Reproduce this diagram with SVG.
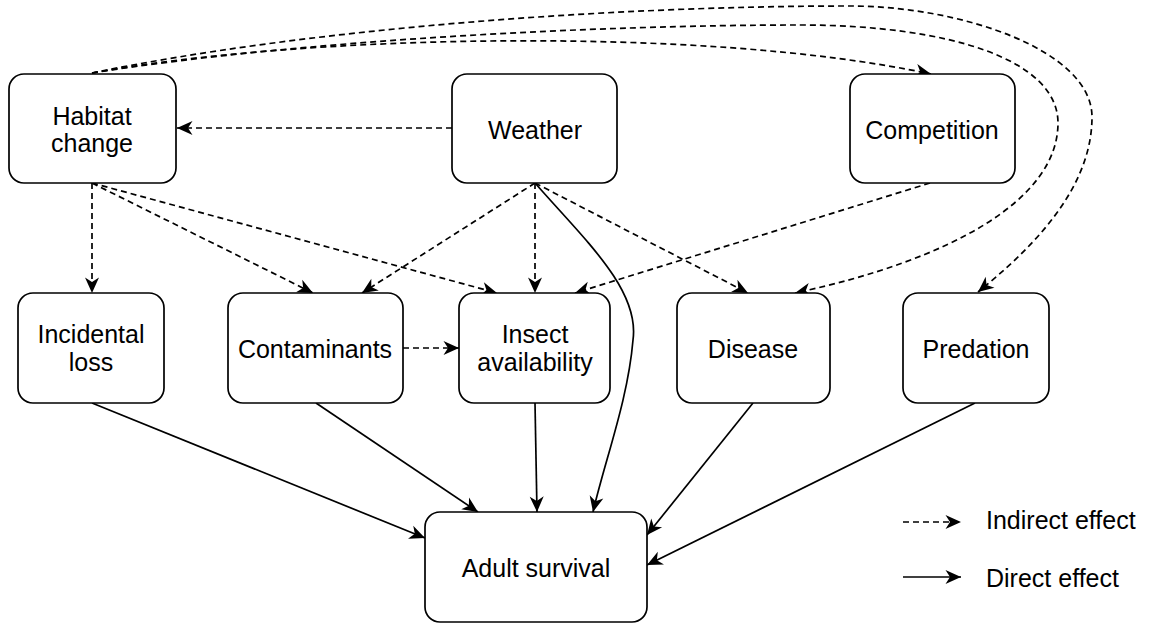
<svg xmlns="http://www.w3.org/2000/svg" width="1152" height="623" viewBox="0 0 1152 623">
<style>
.box{fill:#fff;stroke:#000;stroke-width:1.7}
.t{font-family:"Liberation Sans",Arial,sans-serif;font-size:25px;fill:#000;text-anchor:middle}
.tl{font-family:"Liberation Sans",Arial,sans-serif;font-size:25px;fill:#000}
.e{fill:none;stroke:#000;stroke-width:1.7;marker-end:url(#ah)}
.d{stroke-dasharray:6 4}
</style>
<defs>
<marker id="ah" markerUnits="userSpaceOnUse" viewBox="-17 -9 18 18" markerWidth="18" markerHeight="18" refX="0" refY="0" orient="auto">
<path d="M0,0 L-15.5,-7 L-11,0 L-15.5,7 Z" fill="#000"/>
</marker>
</defs>
<rect width="1152" height="623" fill="#fff"/>
<g id="connectors">
<path class="e d" d="M452,128 L177,128"/>
<path class="e d" d="M92,73 C300,35 700,25 931,74"/>
<path class="e d" d="M92,73 C300,40 600,25 800,25 C950,25 1058,60 1058,123 C1058,200 950,260 795,293"/>
<path class="e d" d="M92,73 C300,30 600,6 850,6 C960,6 1092,50 1092,117 C1092,190 1030,250 978,292"/>
<path class="e d" d="M92,183 L92,293"/>
<path class="e d" d="M92,183 L313,293"/>
<path class="e d" d="M92,183 L497,293"/>
<path class="e d" d="M535,183 L362,293"/>
<path class="e d" d="M535,183 L535,293"/>
<path class="e d" d="M535,183 L748,293"/>
<path class="e d" d="M930,183 L575,293"/>
<path class="e d" d="M403,348 L459,348"/>
<path class="e" d="M535,183 C585,240 640,290 633,340 C628,400 605,460 593,512"/>
<path class="e" d="M92,403 L425,538"/>
<path class="e" d="M316,403 L478,512"/>
<path class="e" d="M535,403 L537,512"/>
<path class="e" d="M753,403 L647,535"/>
<path class="e" d="M975,403 L647,565"/>
</g>
<g id="habitat"><rect class="box" x="9" y="74" width="167" height="109" rx="15"/><text class="t" x="92" y="125">Habitat</text><text class="t" x="92" y="152">change</text></g>
<g id="weather"><rect class="box" x="452" y="74" width="165" height="109" rx="15"/><text class="t" x="535" y="139">Weather</text></g>
<g id="competition"><rect class="box" x="850" y="74" width="165" height="109" rx="15"/><text class="t" x="932" y="139">Competition</text></g>
<g id="incidental"><rect class="box" x="18" y="293" width="146" height="110" rx="15"/><text class="t" x="91" y="343">Incidental</text><text class="t" x="91" y="371">loss</text></g>
<g id="contaminants"><rect class="box" x="228" y="293" width="175" height="110" rx="15"/><text class="t" x="315" y="358">Contaminants</text></g>
<g id="insect"><rect class="box" x="459" y="293" width="151" height="110" rx="15"/><text class="t" x="535" y="343">Insect</text><text class="t" x="535" y="371">availability</text></g>
<g id="disease"><rect class="box" x="677" y="293" width="153" height="110" rx="15"/><text class="t" x="753" y="358">Disease</text></g>
<g id="predation"><rect class="box" x="903" y="293" width="146" height="110" rx="15"/><text class="t" x="976" y="358">Predation</text></g>
<g id="adult"><rect class="box" x="425" y="512" width="222" height="110" rx="15"/><text class="t" x="536" y="577">Adult survival</text></g>
<g id="legend">
<path class="e d" d="M903,522 L961,522"/>
<text class="tl" x="986" y="529">Indirect effect</text>
<path class="e" d="M903,577 L961,577"/>
<text class="tl" x="986" y="587">Direct effect</text>
</g>
</svg>
